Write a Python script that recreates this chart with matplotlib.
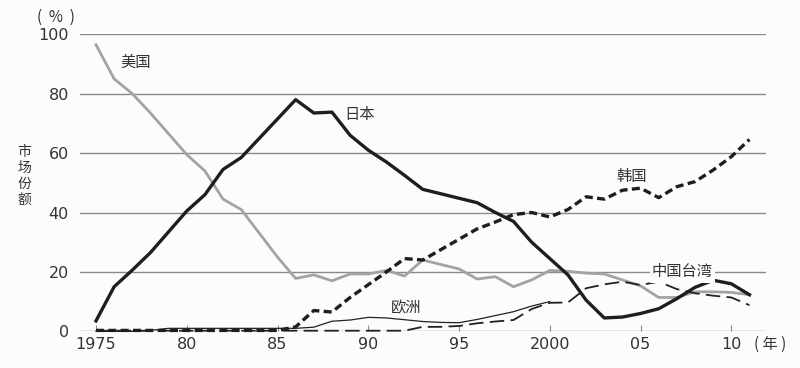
import matplotlib
matplotlib.use('Agg')
import matplotlib.pyplot as plt

plt.rcParams['font.family'] = ['Noto Sans CJK SC', 'DejaVu Sans']

years = list(range(1975, 2012))

usa = [96.5, 85, 80, 73.5, 66.5, 59.5, 54, 44.5, 41, 33, 25, 17.8, 19, 17, 19.3, 19.3,
       20.5, 18.6, 24, 22.5, 21, 17.6, 18.4, 15, 17.3, 20.5, 20.2, 19.6, 19.3, 17.3,
       15.3, 11.4, 11.4, 13.3, 13.3, 13.1, 12.3]
japan = [3.5, 15, 20.6, 26.5, 33.5, 40.5, 46, 54.5, 58.5, 65, 71.5, 78, 73.5, 73.8, 66,
         61, 57, 52.5, 47.8, 46.3, 44.8, 43.3, 40, 37, 30, 24.5, 19, 10.5, 4.5, 4.8,
         6, 7.6, 11, 14.8, 17.2, 16, 12.3]
korea = [0.3, 0.3, 0.3, 0.3, 0.3, 0.3, 0.3, 0.3, 0.3, 0.3, 0.3, 1.5, 7, 6.5, 11.4, 15.7,
         20, 24.5, 24, 27.5, 31, 34.5, 36.8, 39.3, 40, 38.5, 41, 45.3, 44.5, 47.5,
         48.2, 45, 48.7, 50.4, 54.3, 58.8, 64.6]
taiwan = [0.2, 0.2, 0.2, 0.2, 0.2, 0.2, 0.2, 0.2, 0.2, 0.2, 0.2, 0.2, 0.2, 0.2, 0.2, 0.2,
          0.2, 0.2, 1.5, 1.5, 1.8, 2.7, 3.3, 3.8, 7.5, 9.6, 9.7, 14.5, 15.8, 16.7,
          15.6, 16.7, 14.2, 12.8, 12, 11.4, 8.8]
europe_years = list(range(1975, 2001))
europe = [0, 0, 0, 0.3, 1, 1, 1, 1, 1, 1, 1, 1, 1.4, 3.4, 3.8, 4.7, 4.5, 3.9, 3.3, 3,
          2.9, 4, 5.3, 6.6, 8.5, 10]

tick_years = [1975, 1980, 1985, 1990, 1995, 2000, 2005, 2010]
tick_labels = ['1975', '80', '85', '90', '95', '2000', '05', '10']
y_ticks = [0, 20, 40, 60, 80, 100]

TXT = '#333333'
GRID = '#8a8a8a'

fig = plt.figure(figsize=(8, 3.68), dpi=100, facecolor='#fcfcfc')
ax = fig.add_axes([0.1, 0.0997, 0.8575, 0.8071])
ax.set_facecolor('#fcfcfc')

for v in y_ticks:
    ax.axhline(v, color=GRID, lw=1.0, zorder=1)

ax.plot(years, usa, color='#a3a3a3', lw=2.0, zorder=3, clip_on=False)
ax.plot(europe_years, europe, color='#222222', lw=0.9, zorder=4, clip_on=False)
ax.plot(years, taiwan, color='#222222', lw=1.3, ls=(0, (8, 3.5)), zorder=4, clip_on=False)
ax.plot(years, korea, color='#1e1e1e', lw=2.4, ls=(0, (2.4, 1.3)), zorder=5, clip_on=False)
ax.plot(years, japan, color='#1e1e1e', lw=2.4, zorder=6, clip_on=False)

ax.set_xlim(1974.12, 2011.91)
ax.set_ylim(0, 100)
for s in ax.spines.values():
    s.set_visible(False)

ax.set_xticks(tick_years)
ax.set_xticklabels(tick_labels)
ax.set_yticks(y_ticks)
ax.tick_params(axis='x', direction='in', length=4, width=0.8, color=GRID,
               labelsize=11.5, labelcolor=TXT, pad=4)
ax.tick_params(axis='y', length=0, labelsize=11.5, labelcolor=TXT, pad=8)
for t in ax.get_xticklabels() + ax.get_yticklabels():
    t.set_family('DejaVu Sans')

lab = dict(fontsize=11, color=TXT, ha='center', va='center', zorder=7)
ax.text(1977.2, 90.7, '美国', **lab)
ax.text(1989.5, 73.1, '日本', **lab)
ax.text(2004.5, 52.3, '韩国', **lab)
ax.text(1992.1, 7.8, '欧洲', **lab)
ax.text(2007.3, 20, '中国台湾',
        bbox=dict(boxstyle='square,pad=0.15', facecolor='#fcfcfc', edgecolor='none'), **lab)

fig.text(0.03, 0.522, '市\n场\n份\n额', fontsize=10, color=TXT, ha='center', va='center',
         linespacing=1.2)
fig.text(0.07, 0.954, '(  %  )', fontsize=11, color=TXT, ha='center', va='center')
fig.text(0.9625, 0.065, '( 年 )', fontsize=11, color=TXT, ha='center', va='center')

fig.savefig('out.png', dpi=100, facecolor=fig.get_facecolor())
